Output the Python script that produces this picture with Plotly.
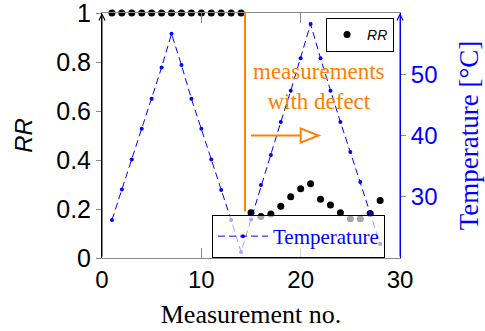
import plotly.graph_objects as go

# ---- data ----
meas = list(range(1, 29))
rr = [1.0] * 14 + [0.185, 0.169, 0.18, 0.211, 0.25, 0.283, 0.303, 0.24, 0.216, 0.185, 0.16, 0.16, 0.182, 0.235]
temp = [26.2, 31.2, 36.1, 41.1, 46.0, 51.1, 56.6, 51.5, 46.0, 41.1, 36.1, 31.1, 26.2, 21.0,
        26.3, 31.9, 36.8, 42.2, 47.3, 52.6, 58.2, 52.6, 47.3, 42.2, 37.3, 32.4, 27.4, 22.3]
x_ticks = [0, 10, 20, 30]
rr_ticks = [0, 0.2, 0.4, 0.6, 0.8, 1]
rr_ticktext = ["0", "0.2", "0.4", "0.6", "0.8", "1"]
temp_ticks = [30, 40, 50]
defect_x = 14.4
defect_rr_bottom = 0.19
arrow_y = 0.5
arrow_x0, arrow_x1, arrow_tip = 15.0, 20.0, 21.8

ORANGE = "#ff8000"
BLUE = "#0000ff"
GRAY = "#8a8a8a"
SANS = "Liberation Sans"
SERIF = "Liberation Serif"

fig = go.Figure()
fig.add_trace(go.Scatter(
    x=meas, y=rr, mode="markers", name="<i>RR</i>",
    marker=dict(color="black", size=7), cliponaxis=False,
    xaxis="x", yaxis="y", legend="legend"))
fig.add_trace(go.Scatter(
    x=meas, y=temp, mode="lines+markers", name="Temperature",
    line=dict(color=BLUE, width=1, dash="7px,4px"),
    marker=dict(color=BLUE, size=4), cliponaxis=False,
    xaxis="x", yaxis="y2", legend="legend2"))

# orange defect marker line and arrow
fig.add_shape(type="line", x0=defect_x, x1=defect_x, y0=defect_rr_bottom, y1=1,
              xref="x", yref="y", line=dict(color=ORANGE, width=2))
fig.add_shape(type="line", x0=arrow_x0, x1=arrow_x1, y0=arrow_y, y1=arrow_y,
              xref="x", yref="y", line=dict(color=ORANGE, width=2))
fig.add_shape(type="path",
              path=f"M {arrow_x1},{arrow_y - 0.029} L {arrow_tip},{arrow_y} L {arrow_x1},{arrow_y + 0.029} Z",
              xref="x", yref="y", line=dict(color=ORANGE, width=2), fillcolor="white")
fig.add_annotation(x=21.86, y=0.702, xref="x", yref="y", showarrow=False,
                   text="measurements<br>with defect",
                   font=dict(family=SERIF, size=23, color=ORANGE))

# axis arrows
fig.add_annotation(x=0, y=1, xref="paper", yref="paper", ax=0, ay=245,
                   showarrow=True, arrowhead=5, arrowsize=1.2, arrowwidth=1,
                   arrowcolor="black", text="")
fig.add_annotation(x=1, y=1, xref="paper", yref="paper", ax=0, ay=245,
                   showarrow=True, arrowhead=5, arrowsize=1.2, arrowwidth=1,
                   arrowcolor=BLUE, text="")

fig.update_layout(
    width=485, height=331,
    margin=dict(l=102, r=85, t=13, b=73, autoexpand=False),
    paper_bgcolor="white", plot_bgcolor="white",
    xaxis=dict(range=[0, 30], tickvals=x_ticks, ticks="inside", ticklen=10,
               tickcolor=GRAY, showline=True, linecolor=GRAY, linewidth=1,
               mirror="ticks", showgrid=False, zeroline=False, automargin=False,
               tickfont=dict(family=SANS, size=24, color="black"),
               title=dict(text="Measurement no.", font=dict(family=SERIF, size=26, color="black"),
                          standoff=13)),
    yaxis=dict(range=[0, 1.0001], tickvals=rr_ticks, ticktext=rr_ticktext, ticks="outside",
               ticklen=5, tickcolor=GRAY, showline=True, linecolor="black", linewidth=1,
               showgrid=False, zeroline=False, ticklabeloverflow="allow", automargin=False,
               tickfont=dict(family=SANS, size=25, color="black"),
               title=dict(text="<i>RR</i>", font=dict(family=SANS, size=24, color="black"),
                          standoff=16)),
    yaxis2=dict(range=[20, 60], tickvals=temp_ticks, overlaying="y", side="right",
                anchor="x", ticks="outside", ticklen=5, tickcolor=GRAY, automargin=False,
                showline=True, linecolor=BLUE, linewidth=1, showgrid=False, zeroline=False,
                tickfont=dict(family=SANS, size=24, color=BLUE),
                title=dict(text="Temperature [°C]", font=dict(family=SERIF, size=27, color=BLUE),
                           standoff=22)),
    yaxis3=dict(range=[0, 1.0001], tickvals=rr_ticks, overlaying="y", side="left", anchor="x",
                ticks="inside", ticklen=5, tickcolor=GRAY, showticklabels=False, automargin=False,
                showline=False, showgrid=False, zeroline=False),
    yaxis4=dict(range=[20, 60], tickvals=temp_ticks, overlaying="y", side="right", anchor="x",
                ticks="inside", ticklen=5, tickcolor=GRAY, showticklabels=False, automargin=False,
                showline=False, showgrid=False, zeroline=False),
    legend=dict(x=0.98, y=0.98, xanchor="right", yanchor="top",
                bgcolor="white", bordercolor="black", borderwidth=1,
                font=dict(family=SANS, size=14, color="black"), itemwidth=30),
    legend2=dict(x=0.369, y=0.1755, xanchor="left", yanchor="top",
                 bgcolor="rgba(255,255,255,0.65)", bordercolor="black", borderwidth=1,
                 font=dict(family=SERIF, size=21, color=BLUE), itemwidth=50),
    showlegend=True,
)

fig.write_html("out.html")
